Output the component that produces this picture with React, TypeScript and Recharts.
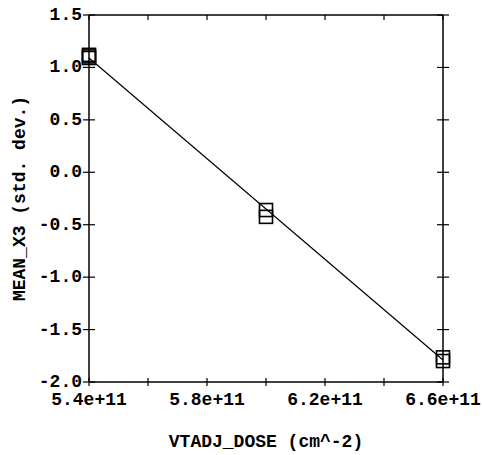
import React from 'react';
import { ComposedChart, XAxis, YAxis, Line, Scatter } from 'recharts';

// Dose levels (cm^-2)
const doseLevels = [540000000000, 600000000000, 660000000000];
// Replicate MEAN_X3 values at each dose level (std. dev.)
const replicatesDose1 = [1.12, 1.105, 1.09];
const replicatesDose2 = [-0.36, -0.425];
const replicatesDose3 = [-1.765, -1.8];
// Fitted line end values
const fitDoses = [540000000000, 660000000000];
const fitValues = [1.09, -1.79];

const xTicks = [540000000000, 560000000000, 580000000000, 600000000000, 620000000000, 640000000000, 660000000000];
const xLabeledTicks = [540000000000, 580000000000, 620000000000, 660000000000];
const yTicks = [-2, -1.5, -1, -0.5, 0, 0.5, 1, 1.5];

const replicateGroups = [replicatesDose1, replicatesDose2, replicatesDose3];
const pointData = replicateGroups.flatMap((vals, i) => vals.map((v) => ({ x: doseLevels[i], y: v })));
const fitData = fitDoses.map((d, i) => ({ x: d, y: fitValues[i] }));

const FONT = 'Liberation Mono, Courier New, monospace';

const BottomTick = (props: any) => {
  const { x, y, payload } = props;
  const v = payload.value;
  const show = xLabeledTicks.includes(v);
  return (
    <g>
      <line x1={x} y1={y - 4} x2={x} y2={y + 4} stroke="#000" strokeWidth={1.2} />
      {show && (
        <text x={x} y={y + 23} textAnchor="middle" fontFamily={FONT} fontWeight="bold" fontSize={18} fill="#000">
          {Number(v).toExponential(1)}
        </text>
      )}
    </g>
  );
};

const TopTick = (props: any) => {
  const { x, y } = props;
  return <line x1={x} y1={y} x2={x} y2={y + 5} stroke="#000" strokeWidth={1.2} />;
};

const LeftTick = (props: any) => {
  const { x, y, payload } = props;
  return (
    <g>
      <line x1={x - 6} y1={y} x2={x + 6} y2={y} stroke="#000" strokeWidth={1.2} />
      <text x={x - 7} y={y + 5} textAnchor="end" fontFamily={FONT} fontWeight="bold" fontSize={18} fill="#000">
        {Number(payload.value).toFixed(1)}
      </text>
    </g>
  );
};

const RightTick = (props: any) => {
  const { x, y } = props;
  return <line x1={x - 6} y1={y} x2={x + 6} y2={y} stroke="#000" strokeWidth={1.2} />;
};

const BoxShape = (props: any) => {
  const { cx, cy } = props;
  const s = 13;
  return (
    <rect x={cx - s / 2} y={cy - s / 2} width={s} height={s} fill="none" stroke="#000" strokeWidth={1.6} />
  );
};

const YLabel = (props: any) => {
  const vb = props.viewBox || { x: 0, y: 15, width: 89, height: 367 };
  const cx = vb.x + 25;
  const cy = vb.y + vb.height / 2;
  return (
    <text
      x={cx}
      y={cy}
      transform={`rotate(-90 ${cx} ${cy})`}
      textAnchor="middle"
      fontFamily={FONT}
      fontWeight="bold"
      fontSize={18}
      fill="#000"
    >
      MEAN_X3 (std. dev.)
    </text>
  );
};

const XLabel = (props: any) => {
  const vb = props.viewBox || { x: 89, y: 382, width: 354, height: 73 };
  const cx = vb.x + vb.width / 2;
  const cy = vb.y + 65;
  return (
    <text x={cx} y={cy} textAnchor="middle" fontFamily={FONT} fontWeight="bold" fontSize={18} fill="#000">
      VTADJ_DOSE (cm^-2)
    </text>
  );
};

export default function App() {
  return (
    <div style={{ position: 'absolute', left: 0, top: 0, width: 482, height: 455, background: '#fff' }}>
      <ComposedChart width={482} height={455} margin={{ top: 0, right: 0, bottom: 0, left: 0 }}>
        <XAxis
          dataKey="x"
          type="number"
          domain={[540000000000, 660000000000]}
          ticks={xTicks}
          interval={0}
          tickSize={0}
          tickMargin={0}
          height={73}
          tick={<BottomTick />}
          axisLine={{ stroke: '#000', strokeWidth: 1.5 }}
          tickLine={false}
          label={<XLabel />}
        />
        <XAxis
          xAxisId="top"
          orientation="top"
          dataKey="x"
          type="number"
          domain={[540000000000, 660000000000]}
          allowDataOverflow
          ticks={xTicks}
          interval={0}
          tickSize={0}
          tickMargin={0}
          height={15}
          tick={<TopTick />}
          axisLine={{ stroke: '#000', strokeWidth: 1.5 }}
          tickLine={false}
        />
        <YAxis
          dataKey="y"
          type="number"
          domain={[-2, 1.5]}
          ticks={yTicks}
          interval={0}
          tickSize={0}
          tickMargin={0}
          width={89}
          tick={<LeftTick />}
          axisLine={{ stroke: '#000', strokeWidth: 1.5 }}
          tickLine={false}
          label={<YLabel />}
        />
        <YAxis
          yAxisId="right"
          orientation="right"
          type="number"
          domain={[-2, 1.5]}
          allowDataOverflow
          ticks={yTicks}
          interval={0}
          tickSize={0}
          tickMargin={0}
          width={39}
          tick={<RightTick />}
          axisLine={{ stroke: '#000', strokeWidth: 1.5 }}
          tickLine={false}
        />
        <Line
          data={fitData}
          dataKey="y"
          type="linear"
          stroke="#000"
          strokeWidth={1.2}
          dot={false}
          activeDot={false}
          isAnimationActive={false}
        />
        <Scatter data={pointData} dataKey="y" shape={<BoxShape />} isAnimationActive={false} />
      </ComposedChart>
    </div>
  );
}
